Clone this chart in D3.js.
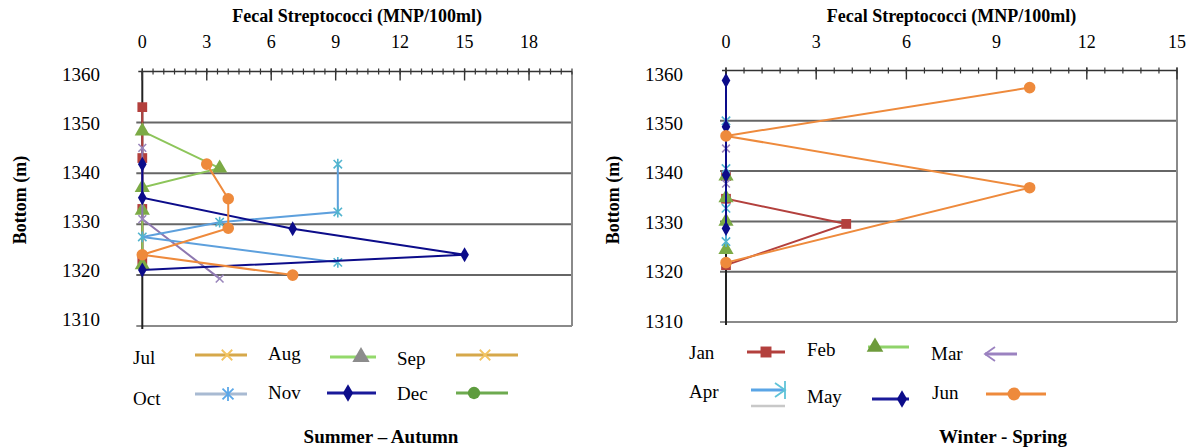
<!DOCTYPE html>
<html>
<head>
<meta charset="utf-8">
<script src="https://cdn.jsdelivr.net/npm/d3@7"></script>
<style>
  body { margin: 0; background: #fff; }
  svg text { font-family: "Liberation Serif", "Times New Roman", serif; fill: #000; }
</style>
</head>
<body>
<svg id="chart" width="1189" height="448"></svg>
<script>
// values, each point is [count, depth]
const summerMonths = ["Jul", "Aug", "Sep", "Oct", "Nov", "Dec"];
const julPoints = [[0, 1353], [0, 1343], [0, 1333], [0, 1323]];
const augPoints = [[0, 1348.3], [3.6, 1341], [0, 1337.2], [0, 1332.7], [0, 1322]];
const sepPoints = [[0, 1345], [0, 1331], [3.6, 1319.3]];
const octPoints = [[9.1, 1341.8], [9.1, 1332.4], [3.6, 1330.4], [0, 1327.5], [9.1, 1322.5]];
const novPoints = [[0, 1341.8], [0, 1335.2], [7, 1329.1], [15, 1324], [0, 1321]];
const decPoints = [[3, 1341.8], [4, 1335], [4, 1329.2], [0, 1324], [7, 1320]];

const winterMonths = ["Jan", "Feb", "Mar", "Apr", "May", "Jun"];
const janPoints = [[0, 1339], [0, 1334.5], [4, 1329.5], [0, 1321.3]];
const febPoints = [[0, 1339], [0, 1334.7], [0, 1330], [0, 1324.4]];
const marPoints = [[0, 1344.5], [0, 1337.5]];
const aprPoints = [[0, 1350], [0, 1340.5], [0, 1332.6], [0, 1326]];
const mayPoints = [[0, 1358], [0, 1348.8], [0, 1339.2], [0, 1328.6]];
const junPoints = [[10.1, 1356.6], [0, 1347], [10.1, 1336.7], [0, 1321.8]];

const summerTicks = [0, 3, 6, 9, 12, 15, 18];
const winterTicks = [0, 3, 6, 9, 12, 15];
const depthTicks = [1360, 1350, 1340, 1330, 1320, 1310];

const xTitle = "Fecal Streptococci (MNP/100ml)";
const yTitle = "Bottom (m)";

// marker shapes (stroke ones built by hand)
const symbolCross = {
  draw(ctx, size) {
    const r = Math.sqrt(size) / 2;
    ctx.moveTo(-r, -r); ctx.lineTo(r, r);
    ctx.moveTo(-r, r); ctx.lineTo(r, -r);
  }
};
const symbolStar = {
  draw(ctx, size) {
    const r = Math.sqrt(size) / 2;
    ctx.moveTo(-r, -r); ctx.lineTo(r, r);
    ctx.moveTo(-r, r); ctx.lineTo(r, -r);
    ctx.moveTo(0, -r * 1.3); ctx.lineTo(0, r * 1.3);
  }
};

// series look, in drawing order
const plotStyles = [
  { shape: d3.symbolSquare,   size: 95,  line: "#b3403d", mark: "#b3403d", stroke: false },
  { shape: d3.symbolTriangle, size: 100, line: "#8dc55a", mark: "#7baa45", stroke: false },
  { shape: symbolCross,       size: 60,  line: "#8e78b0", mark: "#9a86bc", stroke: true },
  { shape: symbolStar,        size: 70,  line: "#5da0dd", mark: "#52b4cf", stroke: true },
  { shape: d3.symbolDiamond,  size: 65,  line: "#0c0c8a", mark: "#0c0c8a", stroke: false },
  { shape: d3.symbolCircle,   size: 105, line: "#ee8a3c", mark: "#ee8a3c", stroke: false }
];

const svg = d3.select("#chart");

function drawPanel(p) {
  const x = d3.scaleLinear().domain([0, p.max]).range([p.left, p.right]);
  const y = d3.scaleLinear().domain([1310, 1360]).range([p.bottom, p.top]);
  // the depth labels sit on a slightly tighter spacing than the grid
  const yLab = d3.scaleLinear().domain([1310, 1360]).range(p.labelRange);
  const g = svg.append("g");

  // horizontal grid
  g.selectAll(".grid")
    .data(p.grid)
    .enter().append("line")
    .attr("x1", p.left - 6).attr("x2", p.right)
    .attr("y1", d => y(d)).attr("y2", d => y(d))
    .attr("stroke", "#666").attr("stroke-width", 2);

  // frame right / bottom
  g.append("line")
    .attr("x1", p.right).attr("x2", p.right)
    .attr("y1", p.top).attr("y2", p.bottom)
    .attr("stroke", "#8a8a8a").attr("stroke-width", 2);
  g.append("line")
    .attr("x1", p.left - 6).attr("x2", p.right)
    .attr("y1", p.bottom).attr("y2", p.bottom)
    .attr("stroke", "#8a8a8a").attr("stroke-width", 2);

  // left axis
  g.append("line")
    .attr("x1", p.left).attr("x2", p.left)
    .attr("y1", p.top).attr("y2", p.bottom + 3)
    .attr("stroke", "#222").attr("stroke-width", 2);

  // top axis with minor and major ticks
  const minor = d3.range(0, p.max + 1e-6, p.minor);
  g.append("line")
    .attr("x1", p.left - 4).attr("x2", p.right)
    .attr("y1", p.top).attr("y2", p.top)
    .attr("stroke", "#333").attr("stroke-width", 1.6);
  g.selectAll(".minor")
    .data(minor)
    .enter().append("line")
    .attr("x1", d => x(d)).attr("x2", d => x(d))
    .attr("y1", p.top - 3).attr("y2", p.top + 3)
    .attr("stroke", "#333").attr("stroke-width", 1.2);
  g.selectAll(".major")
    .data(p.ticks)
    .enter().append("line")
    .attr("x1", d => x(d)).attr("x2", d => x(d))
    .attr("y1", p.top - 3).attr("y2", p.top + 9)
    .attr("stroke", "#333").attr("stroke-width", 1.4);
  g.selectAll(".xlab")
    .data(p.ticks)
    .enter().append("text")
    .attr("x", d => x(d)).attr("y", 42)
    .attr("text-anchor", "middle").attr("dominant-baseline", "central")
    .attr("font-size", 18)
    .text(d => d);

  g.append("text")
    .attr("x", (p.left + p.right) / 2).attr("y", 16)
    .attr("text-anchor", "middle").attr("dominant-baseline", "central")
    .attr("font-size", 18).attr("font-weight", "bold")
    .text(xTitle);

  // depth labels
  g.selectAll(".ylab")
    .data(depthTicks)
    .enter().append("text")
    .attr("x", p.labelRight).attr("y", d => yLab(d))
    .attr("text-anchor", "end").attr("dominant-baseline", "central")
    .attr("font-size", 19)
    .text(d => d);

  g.append("text")
    .attr("transform", `translate(${p.yTitleX},200) rotate(-90)`)
    .attr("text-anchor", "middle").attr("dominant-baseline", "central")
    .attr("font-size", 18).attr("font-weight", "bold")
    .text(yTitle);

  // series
  const line = d3.line().x(d => x(d[0])).y(d => y(d[1]));
  p.series.forEach((pts, i) => {
    const st = plotStyles[i];
    g.append("path")
      .attr("d", line(pts))
      .attr("fill", "none").attr("stroke", st.line).attr("stroke-width", 2);
    g.selectAll(".m" + i)
      .data(pts)
      .enter().append("path")
      .attr("transform", d => `translate(${x(d[0])},${y(d[1])})`)
      .attr("d", d3.symbol().type(st.shape).size(st.size))
      .attr("fill", st.stroke ? "none" : st.mark)
      .attr("stroke", st.mark).attr("stroke-width", st.stroke ? 1.6 : 0);
  });

  // bottom caption
  g.append("text")
    .attr("x", p.captionX).attr("y", 436)
    .attr("text-anchor", "middle").attr("dominant-baseline", "central")
    .attr("font-size", 19).attr("font-weight", "bold")
    .text(p.caption);
}

// legend pieces: text, a short line, a marker on it
function drawLegend(items, names) {
  items.forEach((it, i) => {
    const g = svg.append("g");
    g.append("text")
      .attr("x", it.tx).attr("y", it.ty)
      .attr("dominant-baseline", "central")
      .attr("font-size", 19)
      .text(names[i]);
    g.append("line")
      .attr("x1", it.x1).attr("x2", it.x2)
      .attr("y1", it.ly).attr("y2", it.ly)
      .attr("stroke", it.line).attr("stroke-width", it.width || 3);
    if (it.under) {
      g.append("line")
        .attr("x1", it.x1).attr("x2", it.x2)
        .attr("y1", it.ly + 16).attr("y2", it.ly + 16)
        .attr("stroke", it.under).attr("stroke-width", 2.5);
    }
    if (it.shape) {
      g.append("path")
        .attr("transform", `translate(${it.mx},${it.ly})`)
        .attr("d", d3.symbol().type(it.shape).size(it.size))
        .attr("fill", it.stroke ? "none" : it.mark)
        .attr("stroke", it.mark).attr("stroke-width", it.stroke ? 1.8 : 0);
    }
    if (it.arrow) {
      const ax = it.arrow === "left" ? it.x1 : it.x2;
      const dir = it.arrow === "left" ? 1 : -1;
      g.append("path")
        .attr("d", `M${ax + dir * 10},${it.ly - 7}L${ax},${it.ly}L${ax + dir * 10},${it.ly + 7}`)
        .attr("fill", "none").attr("stroke", it.mark).attr("stroke-width", 1.8);
      if (it.bar) {
        g.append("line")
          .attr("x1", ax).attr("x2", ax)
          .attr("y1", it.ly - 9).attr("y2", it.ly + 9)
          .attr("stroke", it.mark).attr("stroke-width", 1.8);
      }
    }
  });
}

drawPanel({
  left: 142.3, right: 572, top: 71.5, bottom: 326, max: 20, minor: 0.5,
  ticks: summerTicks, grid: [1350, 1340, 1330, 1320],
  labelRight: 100, labelRange: [319, 74], yTitleX: 20,
  series: [julPoints, augPoints, sepPoints, octPoints, novPoints, decPoints],
  caption: "Summer \u2013 Autumn", captionX: 381
});

drawPanel({
  left: 726, right: 1177, top: 70.5, bottom: 322, max: 15, minor: 0.6,
  ticks: winterTicks, grid: [1350, 1340, 1330, 1320],
  labelRight: 683, labelRange: [321, 74], yTitleX: 613,
  series: [janPoints, febPoints, marPoints, aprPoints, mayPoints, junPoints],
  caption: "Winter - Spring", captionX: 1003
});

drawLegend([
  { tx: 133, ty: 357, x1: 195, x2: 247, ly: 355, line: "#d6a84a", shape: symbolCross, size: 110, mark: "#f2c462", mx: 227, stroke: true },
  { tx: 268, ty: 353, x1: 330, x2: 376, ly: 357, line: "#93d96b", shape: d3.symbolTriangle, size: 130, mark: "#8c8c8c", mx: 361 },
  { tx: 397, ty: 358, x1: 456, x2: 518, ly: 355, line: "#d6a84a", shape: symbolCross, size: 110, mark: "#f2c462", mx: 485, stroke: true },
  { tx: 133, ty: 398, x1: 195, x2: 247, ly: 394, line: "#a8bad2", shape: symbolStar, size: 120, mark: "#5ba7e8", mx: 228, stroke: true },
  { tx: 268, ty: 392, x1: 327, x2: 376, ly: 393, line: "#1a1a9a", shape: d3.symbolDiamond, size: 90, mark: "#0c0c8a", mx: 348 },
  { tx: 397, ty: 393, x1: 456, x2: 508, ly: 393, line: "#6daa4f", shape: d3.symbolCircle, size: 120, mark: "#5e9c3e", mx: 474 }
], summerMonths);

drawLegend([
  { tx: 689, ty: 352, x1: 747, x2: 785, ly: 352, line: "#b3403d", shape: d3.symbolSquare, size: 120, mark: "#b3403d", mx: 766 },
  { tx: 807, ty: 349, x1: 868, x2: 909, ly: 347, line: "#8fd36a", shape: d3.symbolTriangle, size: 120, mark: "#6e9b3c", mx: 875 },
  { tx: 931, ty: 353, x1: 985, x2: 1017, ly: 354, line: "#9b82c0", mark: "#9b82c0", arrow: "left" },
  { tx: 689, ty: 391, x1: 751, x2: 785, ly: 390, line: "#5aa5e6", mark: "#5fc3d8", arrow: "right", bar: true, under: "#c8c8c8" },
  { tx: 807, ty: 396, x1: 872, x2: 909, ly: 399, line: "#1a1a9a", shape: d3.symbolDiamond, size: 90, mark: "#0c0c8a", mx: 902 },
  { tx: 932, ty: 392, x1: 986, x2: 1046, ly: 394, line: "#ee8a3c", shape: d3.symbolCircle, size: 130, mark: "#ee8a3c", mx: 1014 }
], winterMonths);
</script>
</body>
</html>
